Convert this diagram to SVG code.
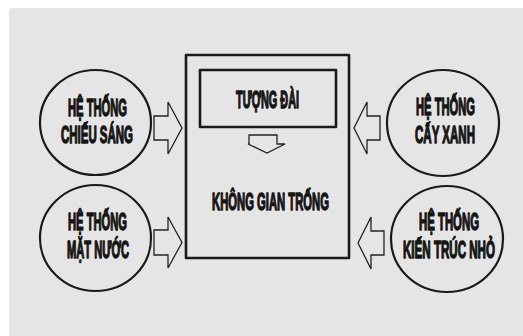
<svg xmlns="http://www.w3.org/2000/svg" width="523" height="336" viewBox="0 0 523 336">
<style>
.c{fill:none;stroke:#1a1a1a;stroke-width:2.2}
.a{fill:none;stroke:#222;stroke-width:1.3;stroke-linejoin:miter}
.r{fill:none;stroke:#1a1a1a;stroke-width:2.6}
</style>
<rect x="0" y="0" width="523" height="336" fill="#ffffff"/>
<rect x="9" y="8" width="530" height="340" rx="3" fill="#e5e5e5"/>
<g font-family="'Liberation Sans', 'DejaVu Sans', sans-serif" font-weight="bold" font-size="23" fill="#151515" stroke="#151515" stroke-width="1.4" stroke-linejoin="round" text-anchor="middle">
<g id="khong-gian-trong">
<rect class="r" x="186" y="55" width="163" height="203"/>
<text x="270.5" y="209.5" textLength="117" lengthAdjust="spacingAndGlyphs">KHÔNG GIAN TRỐNG</text>
</g>
<g id="tuong-dai">
<rect class="r" x="200" y="70" width="136" height="57"/>
<text x="267.5" y="108" textLength="63" lengthAdjust="spacingAndGlyphs">TƯỢNG ĐÀI</text>
</g>
<g id="chieu-sang">
<ellipse class="c" cx="95.5" cy="122.5" rx="55.5" ry="52.5"/>
<text x="97.5" y="115.5" textLength="59" lengthAdjust="spacingAndGlyphs">HỆ THỐNG</text>
<text x="97" y="142.5" textLength="72" lengthAdjust="spacingAndGlyphs">CHIẾU SÁNG</text>
</g>
<g id="mat-nuoc">
<ellipse class="c" cx="95.5" cy="238" rx="55.5" ry="53"/>
<text x="97.5" y="230" textLength="59" lengthAdjust="spacingAndGlyphs">HỆ THỐNG</text>
<text x="98" y="258" textLength="62" lengthAdjust="spacingAndGlyphs">MẶT NƯỚC</text>
</g>
<g id="cay-xanh">
<ellipse class="c" cx="443" cy="123" rx="56" ry="53"/>
<text x="445.5" y="115" textLength="59" lengthAdjust="spacingAndGlyphs">HỆ THỐNG</text>
<text x="445" y="143" textLength="60" lengthAdjust="spacingAndGlyphs">CẤY XANH</text>
</g>
<g id="kien-truc-nho">
<ellipse class="c" cx="447" cy="239" rx="56" ry="53"/>
<text x="449" y="230" textLength="60" lengthAdjust="spacingAndGlyphs">HỆ THỐNG</text>
<text x="449" y="258" textLength="92" lengthAdjust="spacingAndGlyphs">KIẾN TRÚC NHỎ</text>
</g>
</g>
<g id="connectors">
<polygon class="a" points="154,116 168,116 168,102 182,128 168,154 168,140 154,140"/>
<polygon class="a" points="154,230 168,230 168,217 182,242.5 168,268 168,255 154,255"/>
<polygon class="a" points="380,116 367,116 367,102 354,128 367,154 367,140 380,140"/>
<polygon class="a" points="384,231 371,231 371,217 358,243 371,269 371,255 384,255"/>
<polygon class="a" points="249,135 277,135 277,144 285,144 267,153 248,144 249,144"/>
</g>
</svg>
